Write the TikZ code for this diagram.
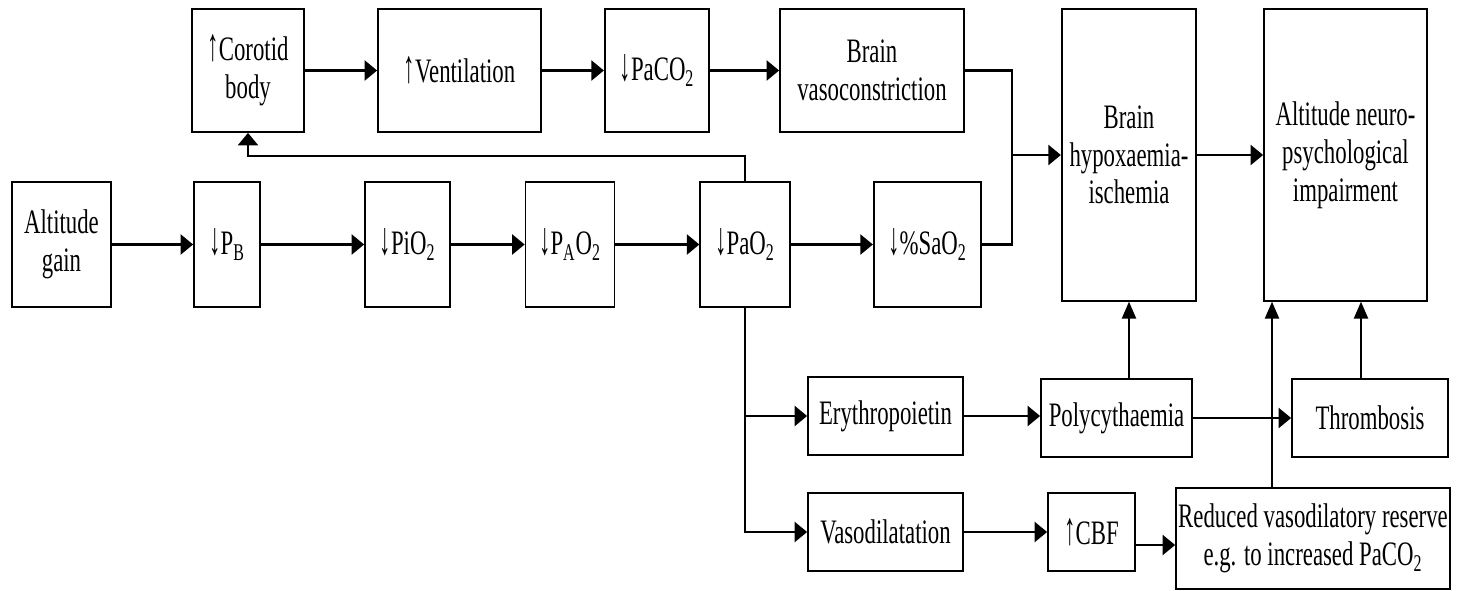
\documentclass[tikz,border=0pt]{standalone}
\usepackage{fontspec}
\setmainfont{Liberation Serif}[FakeStretch=0.665]
\usetikzlibrary{arrows.meta}
\newcommand{\arrUp}{\scalebox{1}[1.35]{↑}}
\newcommand{\arrDown}{\scalebox{1}[1.35]{↓}}

\begin{document}
\begin{tikzpicture}[boxStyle/.style={rectangle, draw, line width=1pt, align=center, inner sep=1pt, minimum height=2.5cm, font=\fontsize{19.5}{21.5}\selectfont}, lineStyle/.style={line width=1.3pt}, upStyle/.style={line width=1.3pt, -{Triangle[length=0.34cm, width=0.28cm]}}, >={Triangle[length=0.25cm, width=0.4cm]}]
                    \useasboundingbox (0, 0) rectangle (29.2, -11.8);

                    \node[boxStyle, minimum width=2.24cm, minimum height=2.46cm] (top_0) at ( 4.96, -1.41) {\arrUp Corotid\\body};
                    \node[boxStyle, minimum width=3.26cm, minimum height=2.46cm] (top_1) at ( 9.19, -1.41) {\arrUp Ventilation};
                    \node[boxStyle, minimum width=2.09cm, minimum height=2.46cm] (top_2) at (13.14, -1.41) {\arrDown PaCO\textsubscript{2}};
                    \node[boxStyle, minimum width=3.68cm, minimum height=2.46cm] (top_3) at (17.44, -1.41) {Brain\\vasoconstriction};

                    \node[boxStyle, minimum width=1.99cm] (mid_0) at ( 1.23, -4.89) {Altitude\\gain};
                    \node[boxStyle, minimum width=1.32cm] (mid_1) at ( 4.54, -4.89) {\arrDown P\textsubscript{B}};
                    \node[boxStyle, minimum width=1.70cm] (mid_2) at ( 8.15, -4.89) {\arrDown PiO\textsubscript{2}};
                    \node[boxStyle, minimum width=1.78cm] (mid_3) at (11.40, -4.89) {\arrDown P\textsubscript{A}O\textsubscript{2}};
                    \node[boxStyle, minimum width=1.79cm] (mid_4) at (14.90, -4.89) {\arrDown PaO\textsubscript{2}};
                    \node[boxStyle, minimum width=2.15cm] (mid_5) at (18.55, -4.89) {\arrDown\%SaO\textsubscript{2}};

                    \node[boxStyle, minimum width=2.69cm, minimum height=5.83cm] (right_0) at (22.58, -3.10) {Brain\\hypoxaemia-\\ischemia};
                    \node[boxStyle, minimum width=3.26cm, minimum height=5.83cm] (right_1) at (26.91, -3.10) {Altitude neuro-\\psychological\\impairment};

                    \node[boxStyle, minimum width=3.10cm, minimum height=1.56cm] (low_0) at (17.71, -8.32) {Erythropoietin};
                    \node[boxStyle, minimum width=3.02cm, minimum height=1.56cm] (low_1) at (22.33, -8.36) {Polycythaemia};
                    \node[boxStyle, minimum width=3.12cm, minimum height=1.56cm] (low_2) at (27.40, -8.36) {Thrombosis};

                    \node[boxStyle, minimum width=3.10cm, minimum height=1.56cm] (bot_0) at (17.71, -10.64) {Vasodilatation};
                    \node[boxStyle, minimum width=1.74cm, minimum height=1.56cm] (bot_1) at (21.83, -10.64) {\arrUp CBF};
                    \node[boxStyle, minimum width=5.48cm, minimum height=2.02cm, inner sep=0pt] (bot_2) at (26.26, -10.77) {Reduced vasodilatory reserve\\e.g. to increased PaCO\textsubscript{2}};

                    \coordinate (merge) at (20.24, -3.10);
                    \coordinate (red_up) at (25.44, -9.76);
                    \coordinate (thr_up) at (27.22, -7.58);
                    \coordinate (cbf_out) at ([yshift=-0.26cm]bot_1.east);

                    \draw[lineStyle, ->] (top_0.east) -- (top_1.west);
                    \draw[lineStyle, ->] (top_1.east) -- (top_2.west);
                    \draw[lineStyle, ->] (top_2.east) -- (top_3.west);

                    \draw[lineStyle, ->] (mid_0.east) -- (mid_1.west);
                    \draw[lineStyle, ->] (mid_1.east) -- (mid_2.west);
                    \draw[lineStyle, ->] (mid_2.east) -- (mid_3.west);
                    \draw[lineStyle, ->] (mid_3.east) -- (mid_4.west);
                    \draw[lineStyle, ->] (mid_4.east) -- (mid_5.west);

                    \draw[lineStyle, ->] (mid_4.north) -- ++(0, 0.5) -| (top_0.south);

                    \draw[lineStyle] (top_3.east) -| (merge);
                    \draw[lineStyle] (mid_5.east) -| (merge);
                    \draw[lineStyle, ->] (merge) -- (right_0.west);
                    \draw[lineStyle, ->] (right_0.east) -- (right_1.west);

                    \draw[lineStyle, ->] (mid_4.south) |- (bot_0.west);
                    \draw[lineStyle, ->] (mid_4.south |- low_0.west) -- (low_0.west);

                    \draw[lineStyle, ->] (low_0.east) -- (low_0.east -| low_1.west);
                    \draw[lineStyle, ->] (low_1.east) -- (low_2.west);
                    \draw[lineStyle, ->] (bot_0.east) -- (bot_1.west);
                    \draw[lineStyle, ->] (cbf_out) -- (cbf_out -| bot_2.west);

                    \draw[upStyle] (right_0.south |- low_1.north) -- (right_0.south);
                    \draw[upStyle] (red_up) -- (red_up |- right_1.south);
                    \draw[upStyle] (thr_up) -- (thr_up |- right_1.south);
                \end{tikzpicture}
\end{document}
